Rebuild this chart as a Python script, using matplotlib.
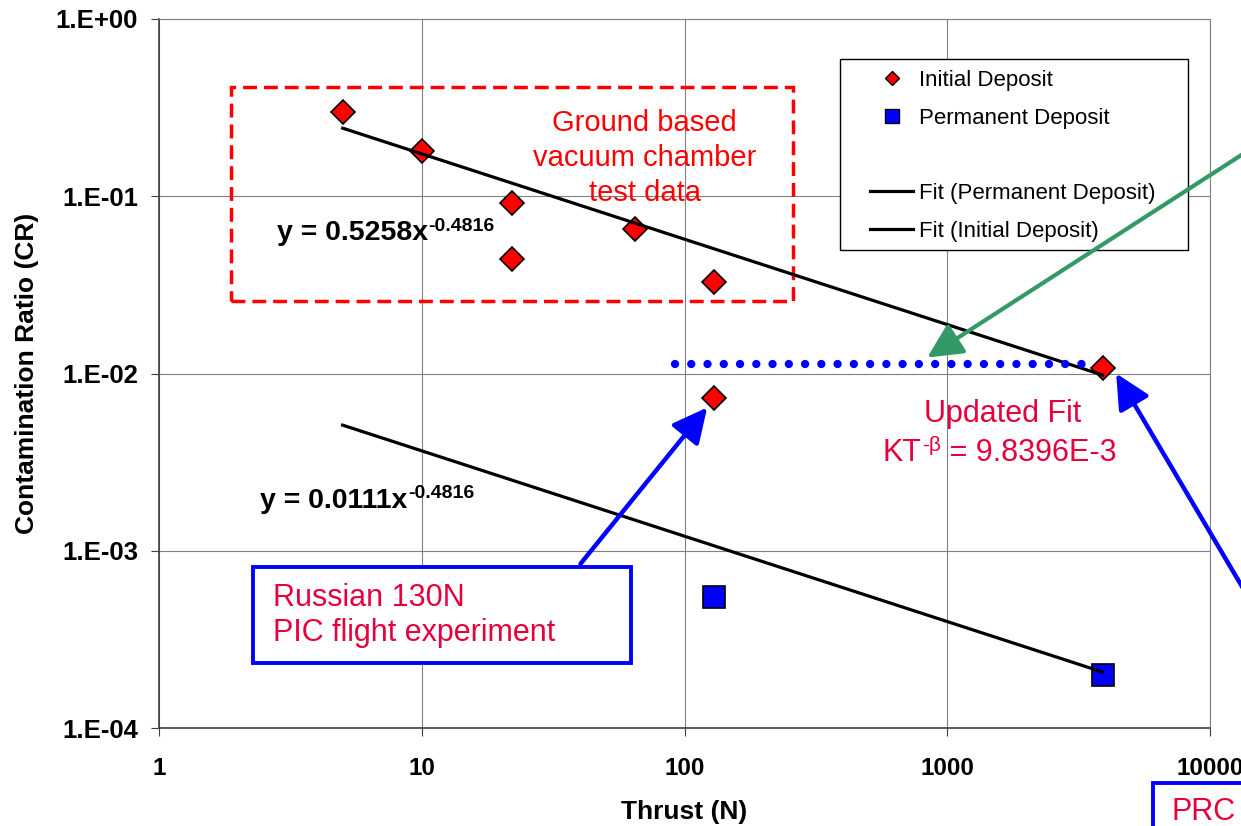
import matplotlib
matplotlib.use("Agg")
import matplotlib.pyplot as plt
from matplotlib.lines import Line2D
from matplotlib.patches import Rectangle

plt.rcParams['font.family'] = ['Liberation Sans', 'DejaVu Sans']

# measured data
thrust_initial = [5, 10, 22, 22, 65, 130, 130, 3900]
cr_initial = [0.30, 0.18, 0.092, 0.044, 0.065, 0.033, 0.0073, 0.0108]
thrust_perm = [130, 3900]
cr_perm = [0.00055, 0.00020]

# power-law fits  y = k * x^-beta
k_initial = 0.5258
k_perm = 0.0111
beta = 0.4816
fit_range = [5, 3900]

# updated fit level (dotted)
updated_x = [92, 3350]
updated_cr = [0.0113, 0.0113]

xticks = [1, 10, 100, 1000, 10000]
yticks = [1e-4, 1e-3, 1e-2, 1e-1, 1e0]
ytick_labels = ['1.E-04', '1.E-03', '1.E-02', '1.E-01', '1.E+00']

RED = '#FF0000'
CRIMSON = '#E6003C'
BLUE = '#0000FF'
GREEN = '#339966'

W, H = 1241, 826
fig = plt.figure(figsize=(W / 100, H / 100), dpi=100)
ax = fig.add_axes([159 / W, 1 - 728 / H, (1210 - 159) / W, (728 - 19) / H])
ax.set_xscale('log')
ax.set_yscale('log')
ax.set_xlim(1, 10000)
ax.set_ylim(1e-4, 1)

ax.grid(True, which='major', color='#808080', lw=0.8)
ax.minorticks_off()
ax.set_xticks(xticks)
ax.set_xticklabels([str(t) for t in xticks], fontsize=17.5, fontweight='bold')
ax.set_yticks(yticks)
ax.set_yticklabels(ytick_labels, fontsize=18.5, fontweight='bold')
ax.tick_params(axis='x', direction='out', length=6, color='#404040', pad=15)
ax.tick_params(axis='y', direction='out', length=6, color='#404040', pad=9)
for s in ['left', 'bottom']:
    ax.spines[s].set_color('#404040')
    ax.spines[s].set_linewidth(1.2)
for s in ['top', 'right']:
    ax.spines[s].set_color('#808080')
    ax.spines[s].set_linewidth(0.8)

ax.set_xlabel('Thrust (N)', fontsize=19, fontweight='bold', labelpad=14)
ax.set_ylabel('Contamination Ratio (CR)', fontsize=19, fontweight='bold', labelpad=12)

# data points
ax.plot(thrust_initial, cr_initial, ls='none', marker='D', ms=12.5,
        mfc='#FF0000', mec='black', mew=1.2, zorder=3)
ax.plot(thrust_perm, cr_perm, ls='none', marker='s', ms=16,
        mfc=BLUE, mec='black', mew=1.2, zorder=3)

# fit lines
fit_initial = [k_initial * x ** -beta for x in fit_range]
fit_perm = [k_perm * x ** -beta for x in fit_range]
ax.plot(fit_range, fit_initial, color='black', lw=2.3, zorder=4)
ax.plot(fit_range, fit_perm, color='black', lw=2.3, zorder=4)

# dotted updated-fit level
ax.plot(updated_x, updated_cr, color=BLUE, lw=6.0, ls=(0, (0.001, 1.95)),
        dash_capstyle='round', zorder=4)


def power_label(x, y, base, exp, size, sup_size, color='black', weight='bold'):
    t = ax.text(x, y, base, fontsize=size, fontweight=weight, color=color,
                ha='left', va='baseline')
    ax.annotate(exp, xy=(1, 1), xycoords=t, xytext=(0.5, 2), textcoords='offset points',
                fontsize=sup_size, fontweight=weight, color=color,
                ha='left', va='top')
    return t


# equations
power_label(2.81, 0.0564, 'y = 0.5258x', '-0.4816', 20.5, 14)
power_label(2.42, 0.00175, 'y = 0.0111x', '-0.4816', 20.5, 14)

# ground test box
ax.add_patch(Rectangle((1.88, 0.0258), 259 - 1.88, 0.413 - 0.0258, fill=False,
                       ec=RED, lw=2.5, ls=(0, (4, 2)), zorder=2))
ax.text(70.5, 0.165, 'Ground based\nvacuum chamber\ntest data', color=RED,
        fontsize=21, ha='center', va='center', linespacing=1.32, zorder=2)

# updated fit text
ax.text(1619, 0.00535, 'Updated Fit', color=CRIMSON, fontsize=22,
        ha='center', va='baseline')
kt = ax.text(566, 0.00322, 'KT', color=CRIMSON, fontsize=22, ha='left', va='baseline')
sup = ax.annotate('-\u03b2', xy=(1, 1), xycoords=kt, xytext=(0.5, 1),
                  textcoords='offset points', fontsize=15, color=CRIMSON,
                  ha='left', va='top')
ax.annotate(' = 9.8396E-3', xy=(1, 0), xycoords=(sup, kt), fontsize=22,
            color=CRIMSON, ha='left', va='bottom')

# Russian flight box
ax.add_patch(Rectangle((2.28, 0.000233), 62.3 - 2.28, 0.000812 - 0.000233,
                       fc='white', ec=BLUE, lw=2.8, zorder=5))
ax.text(2.71, 0.00043, 'Russian 130N\nPIC flight experiment', color=CRIMSON,
        fontsize=22, ha='left', va='center', linespacing=1.2, zorder=6)

# arrows
head = '-|>,head_length=0.85,head_width=0.42'
ax.annotate('', xy=(122, 0.00643), xytext=(40.2, 0.000844),
            arrowprops=dict(arrowstyle=head, color=BLUE, lw=3.2,
                            mutation_scale=25, shrinkA=0, shrinkB=0), zorder=7)
ax.annotate('', xy=(4394, 0.0100), xytext=(1260, 209), textcoords='figure pixels',
            annotation_clip=False,
            arrowprops=dict(arrowstyle=head, color=BLUE, lw=3.2,
                            mutation_scale=25, shrinkA=0, shrinkB=0), zorder=7)
ax.annotate('', xy=(839, 0.0123), xytext=(1260, 683), textcoords='figure pixels',
            annotation_clip=False,
            arrowprops=dict(arrowstyle=head, color=GREEN, lw=3.0,
                            mutation_scale=25, shrinkA=0, shrinkB=0), zorder=7)

# legend
box = Rectangle((840 / W, 1 - 250 / H), (1188 - 840) / W, (250 - 59) / H,
                transform=fig.transFigure, fc='white', ec='black', lw=1.0,
                zorder=4.5, clip_on=False)
ax.add_patch(box)
handles = [
    Line2D([], [], ls='none', marker='D', ms=7.6, mfc='#FF0000', mec='black', mew=1.0),
    Line2D([], [], ls='none', marker='s', ms=10, mfc=BLUE, mec='black', mew=1.0),
    Line2D([], [], color='none'),
    Line2D([], [], color='black', lw=2.3),
    Line2D([], [], color='black', lw=2.3),
]
labels = ['Initial Deposit', 'Permanent Deposit', ' ',
          'Fit (Permanent Deposit)', 'Fit (Initial Deposit)']
leg = ax.legend(handles, labels, loc='upper left', frameon=False,
                bbox_to_anchor=(870 / W, 1 - 70 / H), bbox_transform=fig.transFigure,
                borderpad=0, borderaxespad=0, fontsize=16, handlelength=1.95,
                handletextpad=0.25, labelspacing=0.75)
leg.set_zorder(5)

# PRC box off the right edge
fig.patches.append(Rectangle((1153 / W, -0.2), 0.2, 0.2 + (H - 783) / H,
                             transform=fig.transFigure, fill=False, ec=BLUE, lw=2.8))
fig.text(1172 / W, 14 / H, 'PRC', color=CRIMSON, fontsize=22, ha='left', va='center')

fig.savefig('out.png', dpi=100)
